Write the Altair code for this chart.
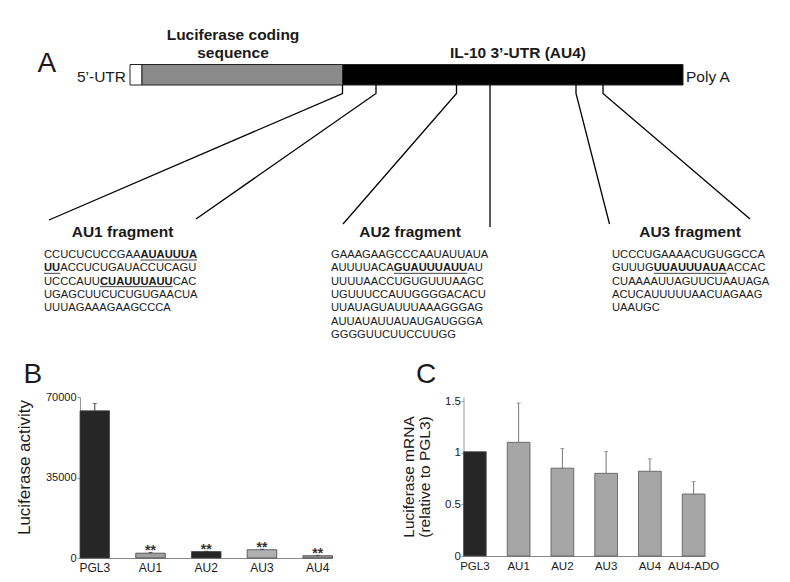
import re
import altair as alt
import pandas as pd

FONT = "Liberation Sans"
INK = "#1a1a1a"

# ---------------- Panel A: construct diagram ----------------
construct_parts = ["5’-UTR box", "Luciferase coding sequence", "IL-10 3’-UTR (AU4)"]
construct_fill = ["#ffffff", "#8a8a8a", "#000000"]

frag_names = ["AU1 fragment", "AU2 fragment", "AU3 fragment"]
frag_seqs = [
    ["CCUCUCUCCGAA[AUAUUUA]",
     "[UU]ACCUCUGAUACCUCAGU",
     "UCCCAUU[CUAUUUAUU]CAC",
     "UGAGCUUCUCUGUGAACUA",
     "UUUAGAAAGAAGCCCA"],
    ["GAAAGAAGCCCAAUAUUAUA",
     "AUUUUACA[GUAUUUAUU]AU",
     "UUUUAACCUGUGUUUAAGC",
     "UGUUUCCAUUGGGGACACU",
     "UUAUAGUAUUUAAAGGGAG",
     "AUUAUAUUAUAUGAUGGGA",
     "GGGGUUCUUCCUUGG"],
    ["UCCCUGAAAACUGUGGCCA",
     "GUUUG[UUAUUUAUA]ACCAC",
     "CUAAAAUUAGUUCUAAUAGA",
     "ACUCAUUUUUAACUAGAAG",
     "UAAUGC"],
]

# ---------------- Panel B ----------------
b_cats = ["PGL3", "AU1", "AU2", "AU3", "AU4"]
b_vals = [64000, 2100, 2800, 3600, 1000]
b_errs = [3200, 300, 150, 250, 150]
b_stars = ["", "**", "**", "**", "**"]
b_colors = ["#262626", "#a0a0a0", "#262626", "#b0b0b0", "#949494"]

# ---------------- Panel C ----------------
c_cats = ["PGL3", "AU1", "AU2", "AU3", "AU4", "AU4-ADO"]
c_vals = [1.01, 1.10, 0.85, 0.80, 0.82, 0.60]
c_errs = [0.0, 0.38, 0.19, 0.21, 0.12, 0.12]
c_colors = ["#262626", "#a6a6a6", "#a6a6a6", "#a6a6a6", "#a6a6a6", "#a6a6a6"]

# ================= layout (page pixels for the schematic) =================
LEFT = 72                     # left overhang reserved for panel B's axis
A_X0, A_X1 = 80, 782
A_Y0, A_H = 8, 350
A_W = A_X1 - A_X0
sx = alt.Scale(domain=[A_X0, A_X1], nice=False, zero=False)
sy = alt.Scale(domain=[A_Y0, A_Y0 + A_H], nice=False, zero=False, reverse=True)

bar_edges = [130, 142, 342.5, 683]
bar_top, bar_bot = 64.5, 85
rect_df = pd.DataFrame({
    "part": construct_parts,
    "x1": bar_edges[:-1], "x2": bar_edges[1:],
    "y1": [bar_top] * 3, "y2": [bar_bot] * 3,
    "fill": construct_fill,
})

# connector polylines: attachment point on UTR, stub end, fragment end
conn = [
    [(342.5, 85), (342.5, 93.5), (49, 220)],
    [(376, 85), (376, 93.5), (196, 219)],
    [(456.5, 85), (456.5, 93.5), (343, 224)],
    [(490, 85), (490, 227)],
    [(576, 85), (576, 93.5), (609.5, 224)],
    [(603, 85), (603, 93.5), (750, 219)],
]
line_rows = []
for i, pts in enumerate(conn):
    for k, (x, y) in enumerate(pts):
        line_rows.append({"id": i, "k": k, "x": x, "y": y})
line_df = pd.DataFrame(line_rows)

W_REG = {"A": 667, "C": 722, "G": 778, "U": 722}
W_BOLD = {"A": 722, "C": 722, "G": 778, "U": 722}
SEQ_FS = 11.2
seq_x0 = [44, 331, 612]
seq_y0, seq_dy = 258, 13.33

seg_rows, ul_rows = [], []
for f, lines in enumerate(frag_seqs):
    for i, line in enumerate(lines):
        x = seq_x0[f]
        y = seq_y0 + i * seq_dy
        for part in re.split(r"(\[[^\]]*\])", line):
            if not part:
                continue
            bold = part.startswith("[")
            t = part[1:-1] if bold else part
            table = W_BOLD if bold else W_REG
            w = sum(table[c] for c in t) / 1000 * SEQ_FS
            seg_rows.append({"x": x, "y": y, "t": t, "bold": bold})
            if bold:
                ul_rows.append({"x": x, "x2": x + w, "y": y + 2})
            x += w
seg_df = pd.DataFrame(seg_rows)
ul_df = pd.DataFrame(ul_rows)

bold_labels = pd.DataFrame({
    "t": ["Luciferase coding", "sequence", "IL-10 3’-UTR (AU4)"] + frag_names,
    "x": [233, 233, 518, 122.5, 410, 690],
    "y": [39.5, 57.5, 57.5, 237, 237, 237],
})
plain_left = pd.DataFrame({"t": ["Poly A"], "x": [686], "y": [81.5]})
plain_right = pd.DataFrame({"t": ["5’-UTR"], "x": [126], "y": [81.5]})
letterA = pd.DataFrame({"t": ["A"], "x": [37.5], "y": [72]})


def X(f="x"):
    return alt.X(f"{f}:Q", scale=sx, axis=None)


def Y(f="y"):
    return alt.Y(f"{f}:Q", scale=sy, axis=None)


rects = alt.Chart(rect_df).mark_rect(stroke="#222", strokeWidth=1).encode(
    x=X("x1"), x2="x2:Q", y=Y("y1"), y2="y2:Q",
    color=alt.Color("fill:N", scale=None))
lines = alt.Chart(line_df).mark_line(color="#000", strokeWidth=1.3).encode(
    x=X(), y=Y(), detail="id:N", order="k:Q")
seq_reg = alt.Chart(seg_df).transform_filter("!datum.bold").mark_text(
    align="left", baseline="alphabetic", fontSize=SEQ_FS, color=INK).encode(
    x=X(), y=Y(), text="t:N")
seq_bold = alt.Chart(seg_df).transform_filter("datum.bold").mark_text(
    align="left", baseline="alphabetic", fontSize=SEQ_FS, fontWeight="bold", color=INK).encode(
    x=X(), y=Y(), text="t:N")
underl = alt.Chart(ul_df).mark_rule(color="#444", strokeWidth=1).encode(
    x=X(), x2="x2:Q", y=Y())
blab = alt.Chart(bold_labels).mark_text(
    align="center", baseline="alphabetic", fontSize=15.5, fontWeight="bold", color=INK).encode(
    x=X(), y=Y(), text="t:N")
pl = alt.Chart(plain_left).mark_text(
    align="left", baseline="alphabetic", fontSize=15.5, color=INK).encode(
    x=X(), y=Y(), text="t:N")
pr = alt.Chart(plain_right).mark_text(
    align="right", baseline="alphabetic", fontSize=15.5, color=INK).encode(
    x=X(), y=Y(), text="t:N")
la = alt.Chart(letterA).mark_text(
    align="left", baseline="alphabetic", fontSize=28, color=INK).encode(
    x=X(), y=Y(), text="t:N")

panelA = alt.layer(rects, lines, underl, seq_reg, seq_bold, blab, pl, pr, la).properties(
    width=A_W, height=A_H)

# ================= Panel B =================
b_df = pd.DataFrame({"cat": b_cats, "val": b_vals, "err": b_errs,
                     "star": b_stars, "color": b_colors})
b_df["top"] = b_df["val"] + b_df["err"]
B_W, B_H = 252.5, 161
bx_scale = alt.Scale(domain=b_cats, paddingInner=0.47, paddingOuter=0.0)
by_scale = alt.Scale(domain=[0, 70000], nice=False)

bx = alt.X("cat:N", sort=b_cats, scale=bx_scale,
           axis=alt.Axis(title=None, labelAngle=0, ticks=False, labelPadding=4,
                         labelFontSize=12, labelColor=INK, domainColor="#888",
                         domainWidth=1))
by = alt.Y("val:Q", scale=by_scale,
           axis=alt.Axis(values=[0, 35000, 70000], format="d", grid=False,
                         title="Luciferase activity", titleFontSize=17,
                         titleFontWeight="normal", titleColor=INK, titlePadding=12,
                         titleY=70, tickSize=3, labelPadding=1, labelFontSize=11,
                         labelColor=INK, domainColor="#999", tickColor="#999"))
bbase = alt.Chart(b_df)
b_bars = bbase.mark_bar(stroke="#444", strokeWidth=0.8).encode(
    x=bx, y=by, color=alt.Color("color:N", scale=None))
b_err = bbase.mark_rule(color="#333", strokeWidth=1).encode(
    x=alt.X("cat:N", sort=b_cats), y="val:Q", y2="top:Q")
b_cap = bbase.mark_tick(color="#333", size=4, thickness=1).encode(
    x=alt.X("cat:N", sort=b_cats), y="top:Q")
b_star = bbase.transform_filter("datum.star != ''").mark_text(
    fontSize=14, fontWeight="bold", color="#333", baseline="alphabetic", dy=3).encode(
    x=alt.X("cat:N", sort=b_cats), y="top:Q", text="star:N")
b_letter = alt.Chart(pd.DataFrame({"t": ["B"]})).mark_text(
    align="left", baseline="alphabetic", fontSize=28, color=INK).encode(
    text="t:N", x=alt.value(-56.5), y=alt.value(-14))
b_spacer = alt.Chart(pd.DataFrame({"t": [0]})).mark_rule(opacity=0).encode(
    x=alt.value(-LEFT), x2=alt.value(0), y=alt.value(0))
panelB = alt.layer(b_bars, b_err, b_cap, b_star, b_letter, b_spacer).properties(
    width=B_W, height=B_H)

# ================= Panel C =================
c_df = pd.DataFrame({"cat": c_cats, "val": c_vals, "err": c_errs, "color": c_colors})
c_df["top"] = c_df["val"] + c_df["err"]
c_err_df = c_df[c_df["err"] > 0]
C_W, C_H = 241.5, 159
cx_scale = alt.Scale(domain=c_cats, paddingInner=0.48, paddingOuter=0.0)
cy_scale = alt.Scale(domain=[0, 1.5 * 159 / 155], nice=False)
cx = alt.X("cat:N", sort=c_cats, scale=cx_scale,
           axis=alt.Axis(title=None, labelAngle=0, ticks=False, labelPadding=4.5,
                         labelFontSize=11.5, labelColor=INK, domainColor="#888",
                         domainWidth=1))
cy = alt.Y("val:Q", scale=cy_scale,
           axis=alt.Axis(values=[0, 0.5, 1, 1.5], format="~g", grid=False,
                         title=["Luciferase mRNA", "(relative to PGL3)"],
                         titleFontSize=15.5, titleLineHeight=16.5,
                         titleFontWeight="normal", titleColor=INK, titlePadding=12,
                         tickSize=2.5, labelPadding=0.5, labelFontSize=11.5,
                         labelColor=INK, domainColor="#999", tickColor="#999"))
c_bars = alt.Chart(c_df).mark_bar(stroke="#555", strokeWidth=0.8).encode(
    x=cx, y=cy, color=alt.Color("color:N", scale=None))
c_err = alt.Chart(c_err_df).mark_rule(color="#777", strokeWidth=1).encode(
    x=alt.X("cat:N", sort=c_cats), y="val:Q", y2="top:Q")
c_cap = alt.Chart(c_err_df).mark_tick(color="#777", size=4, thickness=1).encode(
    x=alt.X("cat:N", sort=c_cats), y="top:Q")
c_letter = alt.Chart(pd.DataFrame({"t": ["C"]})).mark_text(
    align="left", baseline="alphabetic", fontSize=28, color=INK).encode(
    text="t:N", x=alt.value(-47.5), y=alt.value(-14))
panelC = alt.layer(c_bars, c_err, c_cap, c_letter).properties(
    width=C_W, height=C_H)

H_GAP = 463 - (A_X0 + B_W)
V_GAP = 397 - (A_Y0 + A_H)
bottom = alt.HConcatChart(hconcat=[panelB, panelC], spacing=H_GAP, bounds="flush")
chart = alt.VConcatChart(vconcat=[panelA, bottom], spacing=V_GAP, bounds="flush").properties(
    padding=0, background="white"
).configure(font=FONT).configure_view(strokeWidth=0)

chart.save("out.html", embed_options={"renderer": "svg", "actions": False})
